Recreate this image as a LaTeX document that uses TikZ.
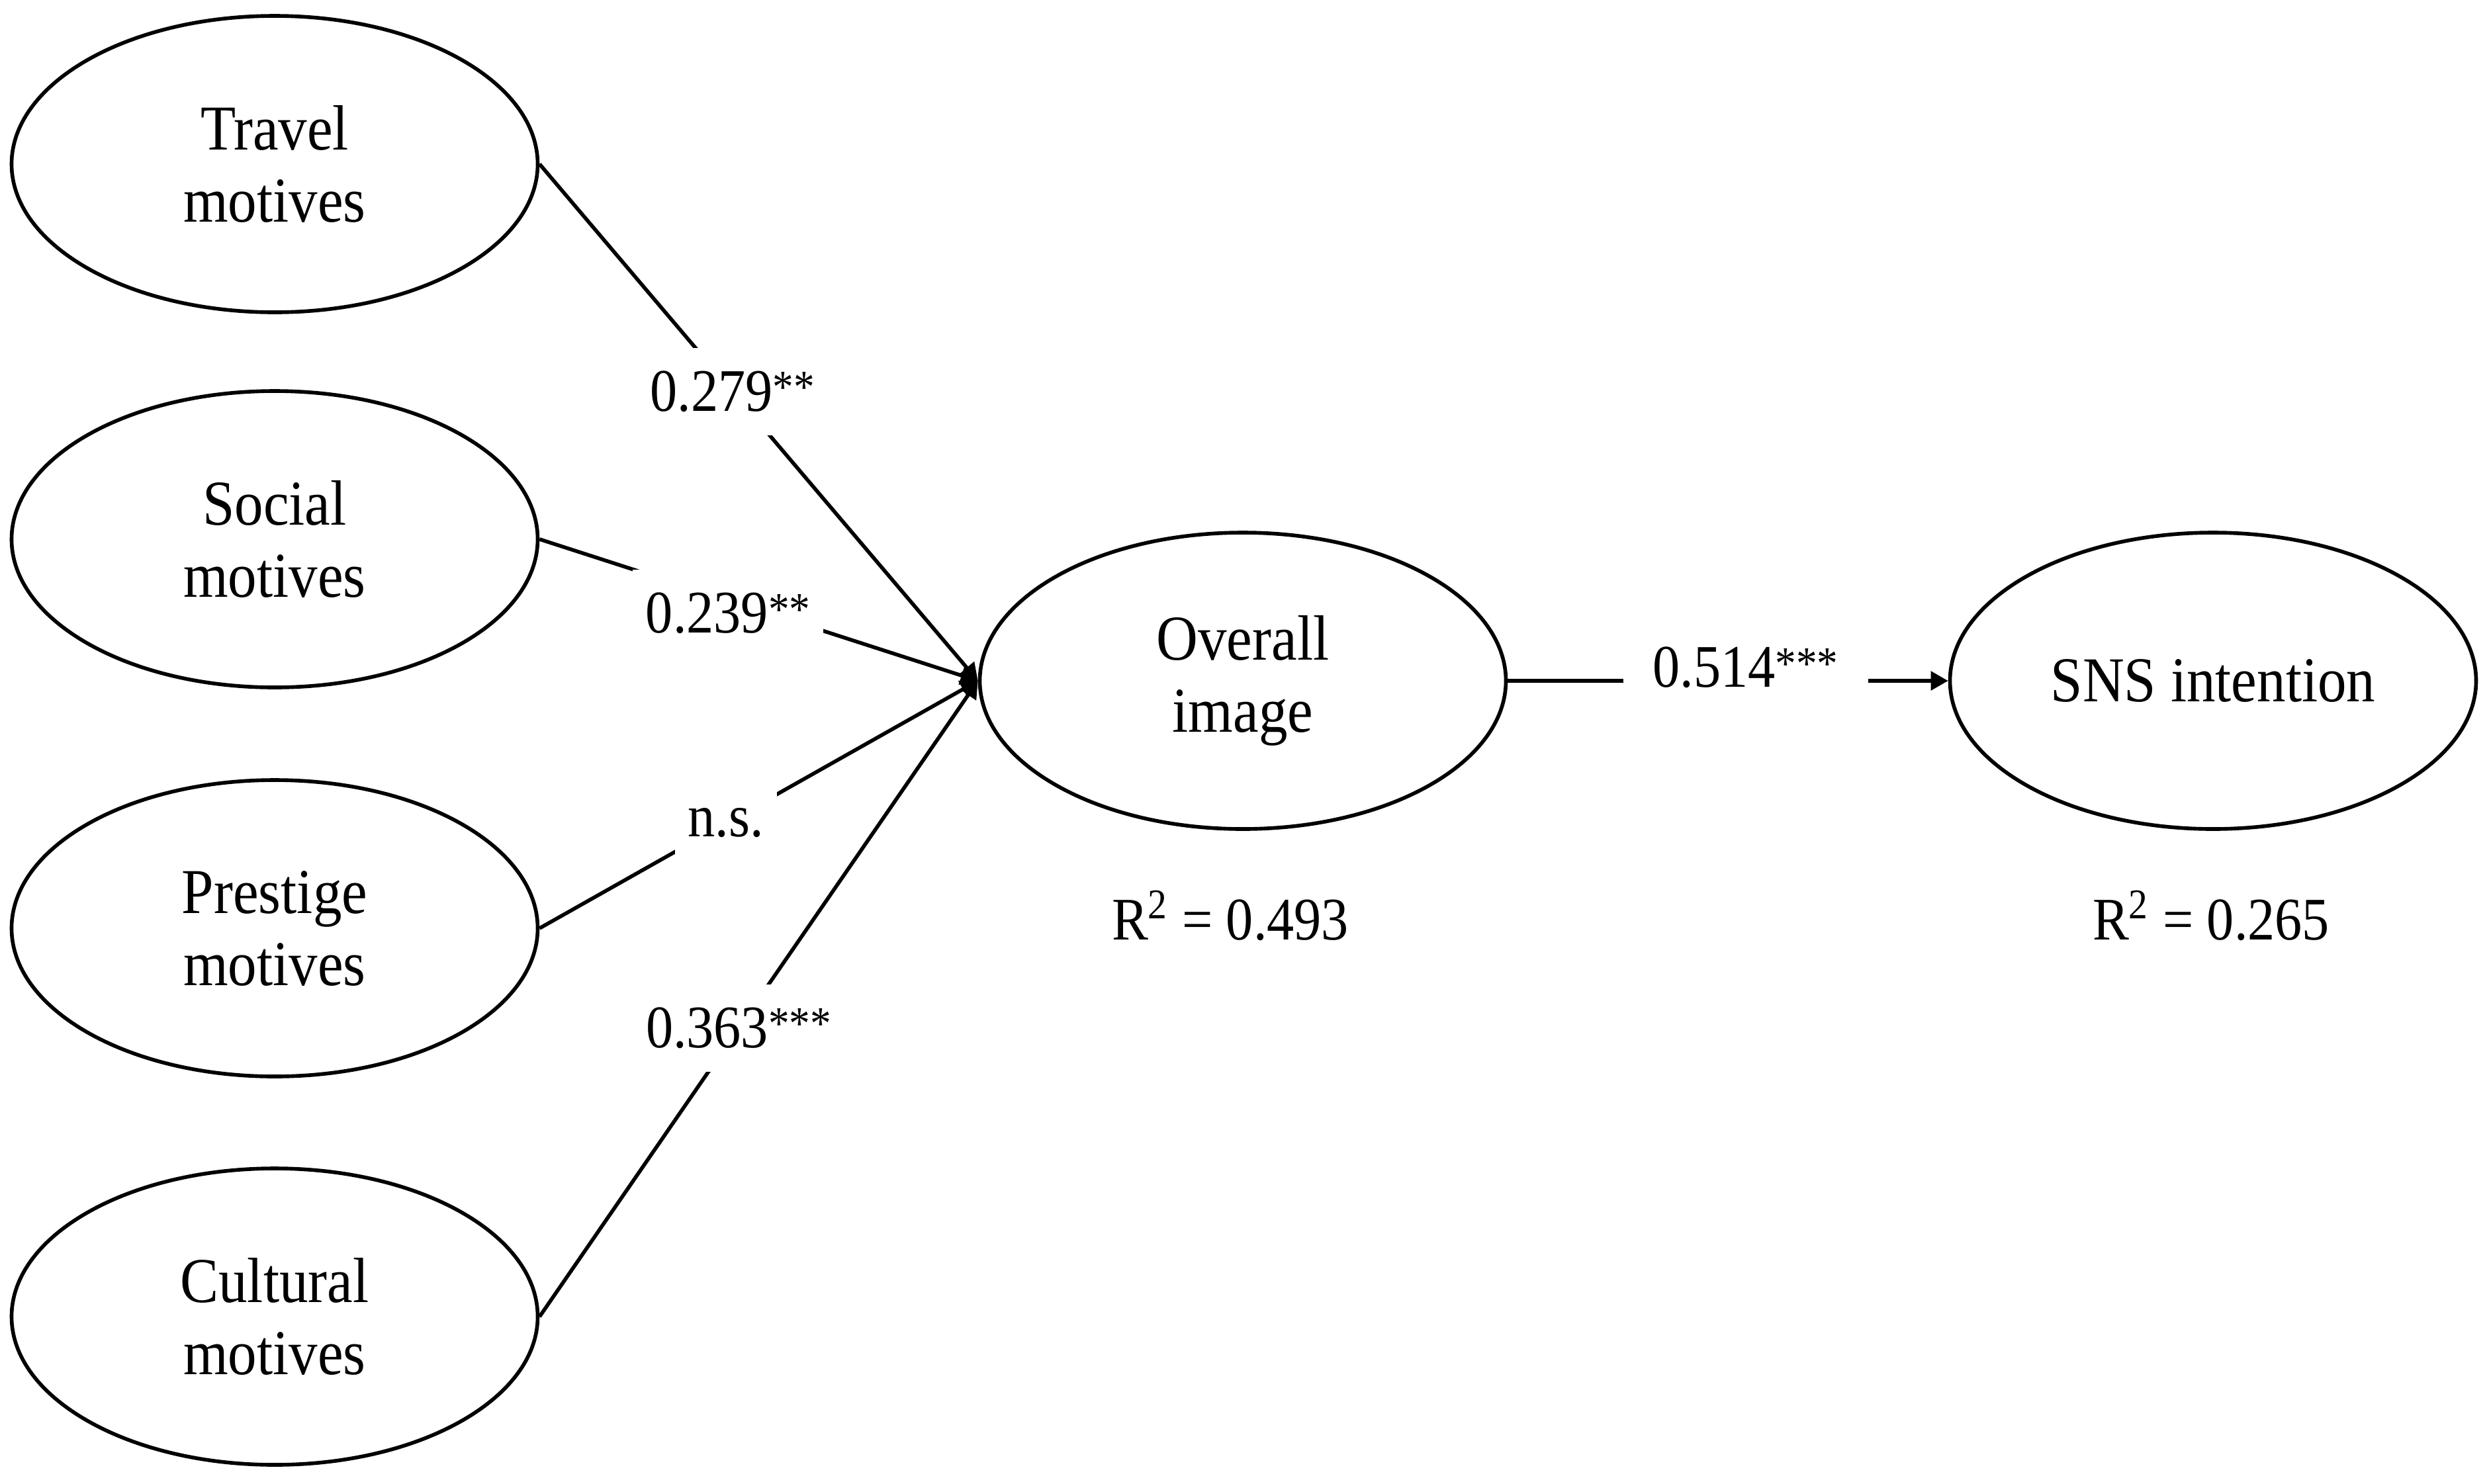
\documentclass[tikz,border=0pt]{standalone}
\usepackage{fontspec}
\setmainfont{Liberation Serif}[FakeStretch=0.9]
\usetikzlibrary{shapes.geometric,arrows.meta}
\newcommand{\sigstars}[1]{{\fontsize{20}{20}\selectfont\raisebox{0.18em}{#1}}}
\tikzset{
  latent/.style={draw, line width=1.6pt, ellipse, minimum width=7.95cm, minimum height=4.48cm, inner sep=0pt, align=center, font=\fontsize{27.5}{31}\selectfont},
  path/.style={line width=1.6pt, -{Triangle[length=0.26cm, width=0.28cm]}},
  coef/.style={fill=white, inner xsep=0.2cm, inner ysep=0.35cm, font=\fontsize{26}{30}\selectfont},
  rsq/.style={font=\fontsize{26}{30}\selectfont}
}
\begin{document}
\begin{tikzpicture}
\useasboundingbox (0,0) rectangle (37.61,-22.42);
\node[latent] (travel) at (4.15,-2.48) {Travel\\motives};
\node[latent] (social) at (4.15,-8.15) {Social\\motives};
\node[latent] (prestige) at (4.15,-14.03) {Prestige\\motives};
\node[latent] (cultural) at (4.15,-19.90) {Cultural\\motives};
\node[latent] (overall) at (18.78,-10.29) {Overall\\image};
\node[latent] (sns) at (33.44,-10.29) {SNS intention};

\draw[path] (travel.east) -- node[coef, pos=0.44] {0.279\sigstars{**}} (overall.west);
\draw[path] (social.east) -- node[coef, pos=0.43, yshift=-0.2cm] {0.239\sigstars{**}} (overall.west);
\draw[path] (prestige.east) -- node[coef, pos=0.425] {n.s.} (overall.west);
\draw[path] (cultural.east) -- node[coef, pos=0.454] {0.363\sigstars{***}} (overall.west);
\draw[path] (overall.east) -- node[coef, pos=0.54, yshift=0.2cm, inner xsep=0.45cm] {0.514\sigstars{***}} (sns.west);

\node[rsq] (r1) at (18.59,-13.84) {R\textsuperscript{2} = 0.493};
\node[rsq] (r2) at (33.41,-13.84) {R\textsuperscript{2} = 0.265};
\end{tikzpicture}
\end{document}
